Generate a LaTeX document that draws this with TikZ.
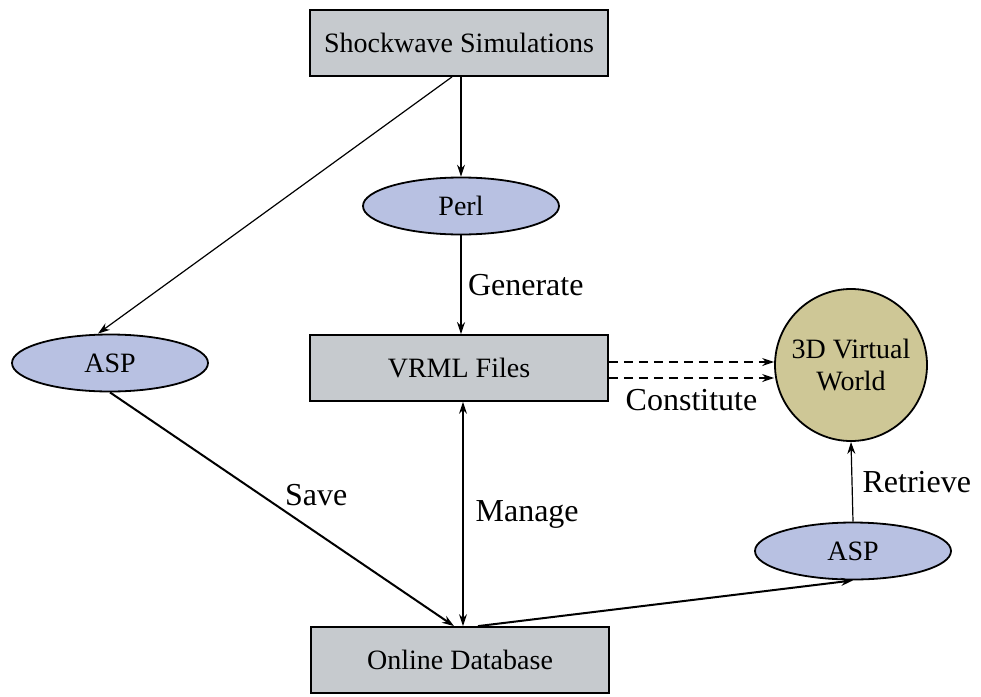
\documentclass[tikz,border=0pt]{standalone}
\usepackage{fontspec}
\setmainfont{Liberation Serif}
\usetikzlibrary{arrows.meta,shapes.geometric}
\definecolor{boxGray}{HTML}{C6CACE}
\definecolor{ovalBlue}{HTML}{B8C1E2}
\definecolor{worldTan}{HTML}{CEC796}

\begin{document}
\begin{tikzpicture}[
  x=1pt,y=-1pt,
  box/.style={draw=black,line width=1.8pt,fill=boxGray,minimum width=298pt,
    minimum height=66pt,font=\fontsize{28}{32}\selectfont},
  oval/.style={ellipse,draw=black,line width=1.8pt,fill=ovalBlue,inner sep=0pt,
    minimum width=196pt,minimum height=57pt,font=\fontsize{28}{32}\selectfont},
  world/.style={circle,draw=black,line width=1.8pt,fill=worldTan,minimum size=152pt,
    align=center,font=\fontsize{28}{32}\selectfont},
  lbl/.style={font=\fontsize{32}{36}\selectfont,inner sep=6pt},
  arr/.style={-{Stealth[length=12pt,width=8pt]},line width=1.2pt},
  dblarr/.style={{Stealth[length=12pt,width=8pt]}-{Stealth[length=12pt,width=8pt]},
    line width=1.2pt},
  thickarr/.style={arr,line width=2pt},
  dasharr/.style={thickarr,dash pattern=on 9pt off 6pt}
]
\useasboundingbox (0,0) rectangle (981,696);
\node[box] (sim) at (459,43) {Shockwave Simulations};
\node[oval] (perl) at (461,206) {Perl};
\node[box] (vrml) at (459,368) {VRML Files};
\node[box] (db) at (460,660) {Online Database};
\node[oval] (aspL) at (110,363) {ASP};
\node[oval] (aspR) at (853,551) {ASP};
\node[world] (vw) at (851,365) {3D Virtual\\World};
\draw[arr] (sim.south -| perl) -- (perl.north);
\draw[thickarr] (perl) -- (perl |- vrml.north) node[midway,right,lbl] (gen) {Generate};
\draw[arr] ([xshift=-7pt]sim.south) -- ([xshift=-12pt]aspL.north);
\draw[thickarr] (aspL.south) -- ([xshift=-6pt]db.north)
  node[midway,anchor=south west,lbl,inner sep=2pt] (save) {Save};
\draw[dblarr] ([xshift=4pt]vrml.south) -- ([xshift=3pt]db.north)
  node[midway,right,lbl,inner sep=12pt] (man) {Manage};
\draw[thickarr] ([xshift=18pt]db.north) -- (aspR.south);
\draw[arr] (aspR.north) -- (vw.south) node[midway,right,lbl,inner sep=10pt] (ret) {Retrieve};
\draw[dasharr] ([yshift=6pt]vrml.east) -- ([yshift=6pt]vrml.east -| vw.west);
\draw[dasharr] ([yshift=-10pt]vrml.east) -- ([yshift=-10pt]vrml.east -| vw.west)
  node[midway,below,lbl,inner sep=10pt] (con) {Constitute};
\end{tikzpicture}
\end{document}
